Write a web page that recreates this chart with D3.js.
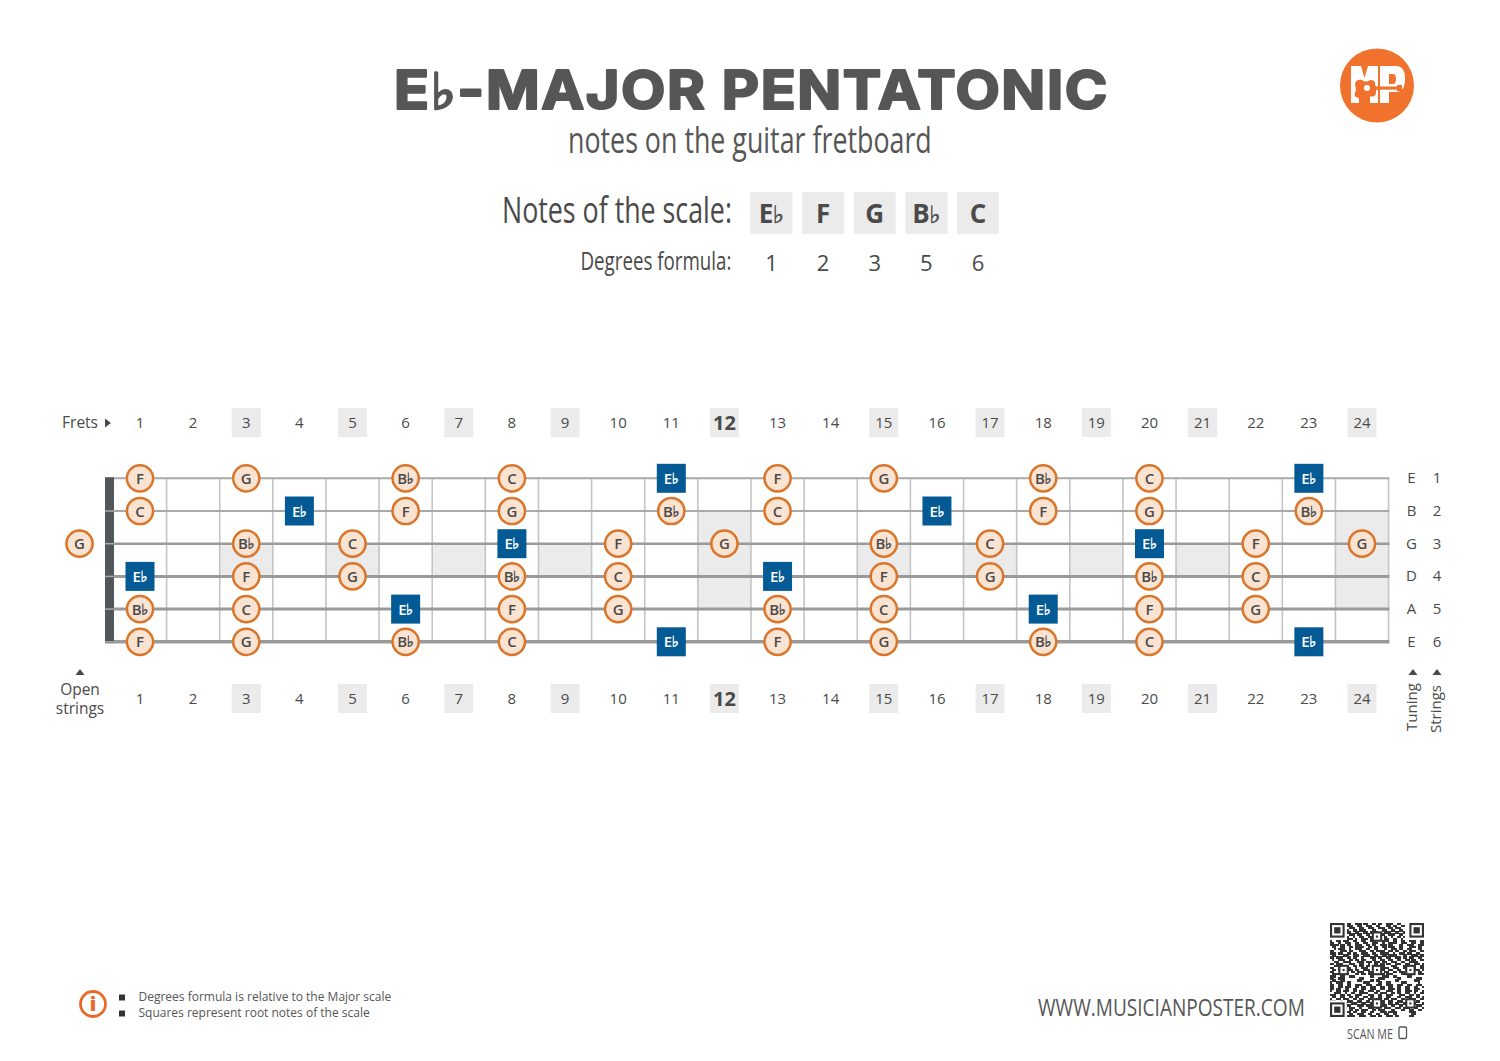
<!DOCTYPE html>
<html><head><meta charset="utf-8">
<script src="https://cdnjs.cloudflare.com/ajax/libs/d3/7.8.5/d3.min.js"></script>
<style>
html,body{margin:0;padding:0;background:#fff}
svg{display:block}
text{font-family:"Open Sans","Noto Sans",sans-serif;fill:#4a4a4a}
</style></head><body><svg id="c" width="1500" height="1061"></svg>
<script>
const FL="\u266D";
const frets=d3.range(1,25);
const strings=[1,2,3,4,5,6];
const tuning=["E","B","G","D","A","E"];
const gaugeWidths=[2,2,2.5,3,3,3.6];
const scaleNotes=["E"+FL,"F","G","B"+FL,"C"];
const degrees=[1,2,3,5,6];
const root="E"+FL;
const shadedFrets=[3,5,7,9,15,17,19,21];
const octaveFrets=[12,24];
const markerFrets=[3,5,7,9,12,15,17,19,21,24];
const string1=[[1,"F"],[3,"G"],[6,"B"+FL],[8,"C"],[11,"E"+FL],[13,"F"],[15,"G"],[18,"B"+FL],[20,"C"],[23,"E"+FL]];
const string2=[[1,"C"],[4,"E"+FL],[6,"F"],[8,"G"],[11,"B"+FL],[13,"C"],[16,"E"+FL],[18,"F"],[20,"G"],[23,"B"+FL]];
const string3=[[0,"G"],[3,"B"+FL],[5,"C"],[8,"E"+FL],[10,"F"],[12,"G"],[15,"B"+FL],[17,"C"],[20,"E"+FL],[22,"F"],[24,"G"]];
const string4=[[1,"E"+FL],[3,"F"],[5,"G"],[8,"B"+FL],[10,"C"],[13,"E"+FL],[15,"F"],[17,"G"],[20,"B"+FL],[22,"C"]];
const string5=[[1,"B"+FL],[3,"C"],[6,"E"+FL],[8,"F"],[10,"G"],[13,"B"+FL],[15,"C"],[18,"E"+FL],[20,"F"],[22,"G"]];
const string6=[[1,"F"],[3,"G"],[6,"B"+FL],[8,"C"],[11,"E"+FL],[13,"F"],[15,"G"],[18,"B"+FL],[20,"C"],[23,"E"+FL]];
const notesByString=[string1,string2,string3,string4,string5,string6];
const qrRows=[
"000000001100111011001101100111001100000000",
"000000001110011001110011000110110011000000",
"000000000111001100111001110011011100000000",
"000000001001101110001100011001100110000000",
"000000001100110011011110001110011001000000",
"000000000111011001100110110011100110000000",
"000000001001001100110011001001001101000000",
"000000001110100111011001101100110010000000",
"100110111001100110011100011100110011001110011",
"110010011100110011001110010011110011100110011",
"111101101100111001101100111011000110011100111",
"011001100110111100110110011011100110001110110",
"001011100100111001100110001001110110011000110",
"110001110110001110011011110011011001101110011",
"111011001101100111001100111100100111011001100",
"011000111001110011100110011011110001100111011",
"110111001101100100011101100110011101101100110",
"010011100110110110001100110011001100110110011",
"001100111100011101110111011001110011001111000",
"110111000111001100100110110110011100110011101",
"001100111001101101101100110001110001100110011",
"110010011100100111001110011100111001110110011",
"011011001110110011100110010011001100110011101",
"110001110011011100110011101100110111001100110",
"011100111000110110111100110111000011100000111",
"111001100111000000011000011100110000011000000",
"110011100000001100000001110000001100000001110",
"011001100000011000011011000000011000000011100",
"100111001100000011100001100110000011100000100",
"110011001100111001110011100111001110011001110",
"110011011100110110011100110011001100110011001",
"110110011001100110011100110011101100110011100",
"100110111001101100111011000111001100111011001",
"001110010011001111000110111001101100110010011",
"111001101100111000111001100111000111001101100",
"011001100110110011011001100110001100111001101",
"100110111001101100110011101101110011001110011",
"111001001110011001101100110011001110011001100",
"001110110011100110011001110011011001101110001",
"100011001100011101110110011001100110011001110",
"111001110111001000111011001110011101110011001",
"001100100110110111001101110001100011001100110",
"000000001101100110011000111011110000001110000",
"000000000110011100110011001100110000000110000",
"000000001111001110011101100111011000001100000"];

const svg=d3.select("#c");
const fretX=d3.scaleLinear().domain([1,24]).range([140,1362]);
const wireX=f=>fretX(f)+fretX(2)/2-fretX(1)/2;
const stringY=d3.scaleLinear().domain([1,6]).range([478.3,641.8]);
const GREY="#ebebeb",DARK="#4a4a4a",ORANGE="#d9762b",PEACH="#fbe3d2",BLUE="#045a94";

function noteText(sel,opts){
  sel.each(function(d){
    const t=d3.select(this);
    const letter=d.replace(FL,""),flat=d.includes(FL);
    t.append("tspan").text(letter);
    if(flat) t.append("tspan").attr("font-size",opts.flat).attr("font-weight",400).attr("font-family","DejaVu Sans")
      .attr("dx",opts.dx).style("stroke",d===root&&opts.onBlue?"#fff":"#4a4a4a").style("stroke-width",opts.sw).text(FL);
  });
}
function fit(t,x,y,len){
  const w=t.node().getComputedTextLength();
  t.attr("transform",`translate(${x},${y}) scale(${len/w},1)`);
  return t;
}

// ---------- title block
const title=svg.append("text").attr("font-size",54).attr("font-weight",700).attr("letter-spacing",1.5)
  .style("font-family","Inter").style("fill","#565656").style("stroke","#565656").style("stroke-width",2.2).style("stroke-linejoin","round");
title.append("tspan").text("E");
title.append("tspan").attr("font-size",50).attr("font-family","DejaVu Sans").attr("font-weight",700).style("stroke-width",2.5).text(FL);
title.append("tspan").text("-MAJOR PENTATONIC");
fit(title,394,108.5,715);
const cond=(x,y,s,size,len,fill)=>fit(svg.append("text").attr("font-size",size).style("fill",fill||"#565656").text(s),x,y,len);
cond(568,153,"notes on the guitar fretboard",36,364);
cond(502,223,"Notes of the scale:",36,230,"#4a4a4a");
cond(580.5,270,"Degrees formula:",25,151,"#4a4a4a");

const scaleX=d3.scalePoint().domain(d3.range(scaleNotes.length)).range([771.5,978]);
svg.append("g").selectAll("rect").data(scaleNotes).join("rect").attr("x",(d,i)=>scaleX(i)-21).attr("y",192).attr("width",42).attr("height",42).attr("fill",GREY);
svg.append("g").selectAll("text").data(scaleNotes).join("text").attr("x",(d,i)=>scaleX(i)).attr("y",223).attr("text-anchor","middle")
  .attr("font-size",26).attr("font-weight",700).call(noteText,{flat:24,dx:-0.5,sw:0.5});
svg.append("g").selectAll("text").data(degrees).join("text").attr("x",(d,i)=>scaleX(i)).attr("y",271).attr("text-anchor","middle")
  .attr("font-size",22).text(d=>d);

// ---------- logo
const logo=svg.append("g");
const OR="#f0722d";
logo.append("circle").attr("cx",1377).attr("cy",85.5).attr("r",37).attr("fill",OR);
logo.append("path").attr("fill","#fff").attr("fill-rule","evenodd")
  .attr("d","M1351,66H1361L1364.5,78L1368,66H1378V103H1370V82L1366,95H1363L1359,82V103H1351Z M1380,66H1396Q1405,66 1405,78.5Q1405,92 1396,92H1389V103H1380Z M1389,74V84H1393Q1396,84 1396,79Q1396,74 1393,74Z");
logo.append("path").attr("fill",OR).attr("d","M1355,84Q1356,79 1362,80Q1366,83 1370,80Q1376,80 1375,85L1377,88L1376,92Q1376,98 1369,96Q1364,97 1359,98Q1352,97 1356,90Z");
logo.append("rect").attr("x",1372).attr("y",86.5).attr("width",30).attr("height",3.2).attr("fill",OR);
logo.append("rect").attr("x",1397).attr("y",85).attr("width",5).attr("height",6).attr("fill",OR);
logo.append("circle").attr("cx",1367).attr("cy",88).attr("r",3).attr("fill","#fff");

// ---------- fret number rows
[423,699].forEach(y=>{
  const g=svg.append("g");
  g.selectAll("rect").data(markerFrets).join("rect")
    .attr("x",f=>fretX(f)-14.5).attr("y",y-15).attr("width",29).attr("height",29).attr("fill",GREY);
  g.selectAll("text").data(frets).join("text").attr("x",f=>fretX(f)).attr("y",f=>y+(f===12?6.5:5)).attr("text-anchor","middle")
    .attr("font-size",f=>f===12?20:15).attr("font-weight",f=>f===12?700:400).text(f=>f);
});

// ---------- fretboard
const board=svg.append("g");
board.selectAll(".inlay").data(shadedFrets).join("rect").attr("fill",GREY)
  .attr("x",f=>wireX(f-1)).attr("width",f=>wireX(f)-wireX(f-1)).attr("y",stringY(3)).attr("height",stringY(4)-stringY(3));
board.selectAll(".oct").data(octaveFrets).join("rect").attr("fill",GREY)
  .attr("x",f=>wireX(f-1)).attr("width",f=>wireX(f)-wireX(f-1)).attr("y",stringY(2)).attr("height",stringY(5)-stringY(2));
board.selectAll(".wire").data(frets).join("line").attr("x1",wireX).attr("x2",wireX)
  .attr("y1",stringY(1)).attr("y2",stringY(6)).attr("stroke","#c4c4c4").attr("stroke-width",1.6);
board.selectAll(".str").data(strings).join("line").attr("x1",105).attr("x2",wireX(24)+0.8)
  .attr("y1",stringY).attr("y2",stringY).attr("stroke",(d,i)=>i<2?"#a9a9a9":"#9a9a9a").attr("stroke-width",(d,i)=>gaugeWidths[i]);
board.append("rect").attr("x",105).attr("y",stringY(1)-1).attr("width",9).attr("height",stringY(6)-stringY(1)+2).attr("fill","#50575b");
board.selectAll(".str2").data(strings).join("line").attr("x1",105).attr("x2",114)
  .attr("y1",stringY).attr("y2",stringY).attr("stroke","#a9a9a9").attr("stroke-width",(d,i)=>i?1.5:0);

// ---------- notes
const markX=f=>f===0?79.5:fretX(f);
notesByString.forEach((arr,i)=>{
  const s=strings[i];
  const g=svg.append("g");
  const cell=g.selectAll("g").data(arr).join("g").attr("transform",d=>`translate(${markX(d[0])},${stringY(s)})`);
  cell.filter(d=>d[1]===root).append("rect").attr("x",-14.5).attr("y",-14.5).attr("width",29).attr("height",29).attr("fill",BLUE);
  cell.filter(d=>d[1]!==root).append("circle").attr("r",13.1).attr("fill",PEACH).attr("stroke",ORANGE).attr("stroke-width",2.5);
  cell.append("text").datum(d=>d[1]).attr("text-anchor","middle").attr("y",5.5).attr("font-size",15).attr("font-weight",600)
    .attr("style",d=>d===root?"fill:#fff":"fill:#4a4a4a").call(noteText,{flat:15,dx:-0.4,sw:0.45,onBlue:true});
});

// ---------- side labels
svg.append("g").selectAll("text").data(tuning).join("text").attr("x",1411.5).attr("y",(d,i)=>stringY(i+1)+5)
  .attr("text-anchor","middle").attr("font-size",15).text(d=>d);
svg.append("g").selectAll("text").data(strings).join("text").attr("x",1437).attr("y",d=>stringY(d)+5)
  .attr("text-anchor","middle").attr("font-size",15).text(d=>d);

const label=(x,y,s,size,anchor,rot)=>svg.append("text").attr("transform",`translate(${x},${y})`+(rot?` rotate(${rot})`:""))
  .attr("text-anchor",anchor).attr("font-size",size).text(s);
const tri=(x,y,dir)=>svg.append("path").attr("transform",`translate(${x},${y})`+(dir?` rotate(${dir})`:""))
  .attr("d","M-4.5,3L4.5,3L0,-3Z").attr("fill",DARK);
label(98,428,"Frets",15.5,"end");
tri(108,423,90);
tri(80,672,0);
label(80,694.5,"Open",15.5,"middle");
label(80,714,"strings",15.5,"middle");
tri(1413,672,0); tri(1437,672,0);
label(1416.5,731,"Tuning",15,"start",-90);
label(1441,733,"Strings",15,"start",-90);

// ---------- footnotes
const info=svg.append("g").attr("transform","translate(93,1004)");
info.append("circle").attr("r",12.5).attr("fill","#fff").attr("stroke","#e8692a").attr("stroke-width",2.8);
info.append("text").attr("text-anchor","middle").attr("y",7).attr("font-size",20).attr("font-weight",800).attr("font-family","DejaVu Serif").style("fill","#e8692a").text("i");
const notesFoot=["Degrees formula is relative to the Major scale","Squares represent root notes of the scale"];
svg.append("g").selectAll("rect").data(notesFoot).join("rect").attr("x",119).attr("y",(d,i)=>994.5+i*16).attr("width",6).attr("height",6).attr("fill","#333");
svg.append("g").selectAll("text").data(notesFoot).join("text").attr("x",138.5).attr("y",(d,i)=>1001+i*16).attr("font-size",12).style("fill","#555").text(d=>d);

cond(1038,1016,"WWW.MUSICIANPOSTER.COM",24,267);
cond(1347,1039,"SCAN ME",14,46);
svg.append("rect").attr("x",1399).attr("y",1027).attr("width",7.5).attr("height",11.5).attr("rx",1.2).attr("fill","none").attr("stroke","#555").attr("stroke-width",1.3);

// ---------- QR code
const n=45;
const qr=svg.append("g").attr("shape-rendering","crispEdges");
const qrPos=d3.scaleLinear().domain([0,n]).range([0,94]);
const qrX=c=>1330+qrPos(c),qrY=r=>923+qrPos(r);
const m=qrPos(1);
qrRows.forEach((row,r)=>{
  qr.append("g").selectAll("rect").data(row.split("").map((b,c)=>({b,c})).filter(d=>d.b==="1")).join("rect")
    .attr("x",d=>qrX(d.c)).attr("y",qrY(r)).attr("width",m+0.2).attr("height",m+0.2).attr("fill","#333");
});
const finders=[[0,0],[n-7,0],[0,n-7]];
const aligns=[[22,6],[6,22],[22,22],[38,22],[22,38],[38,38]];
const fG=svg.append("g");
fG.append("g").selectAll("rect").data(finders).join("rect").attr("x",d=>qrX(Math.max(d[0]-1,0))).attr("y",d=>qrY(Math.max(d[1]-1,0))).attr("width",qrPos(8)).attr("height",qrPos(8)).attr("fill","#fff");
fG.append("g").selectAll("rect").data(finders).join("rect").attr("x",d=>qrX(d[0]+0.5)).attr("y",d=>qrY(d[1]+0.5)).attr("width",qrPos(6)).attr("height",qrPos(6)).attr("fill","#fff").attr("stroke","#333").attr("stroke-width",m);
fG.append("g").selectAll("rect").data(finders).join("rect").attr("x",d=>qrX(d[0]+2)).attr("y",d=>qrY(d[1]+2)).attr("width",qrPos(3)).attr("height",qrPos(3)).attr("fill","#333");
fG.append("g").selectAll("rect").data(aligns).join("rect").attr("x",d=>qrX(d[0]-1.5)).attr("y",d=>qrY(d[1]-1.5)).attr("width",qrPos(4)).attr("height",qrPos(4)).attr("fill","#fff").attr("stroke","#333").attr("stroke-width",m);
fG.append("g").selectAll("rect").data(aligns).join("rect").attr("x",d=>qrX(d[0])).attr("y",d=>qrY(d[1])).attr("width",m).attr("height",m).attr("fill","#333");
</script></body></html>
